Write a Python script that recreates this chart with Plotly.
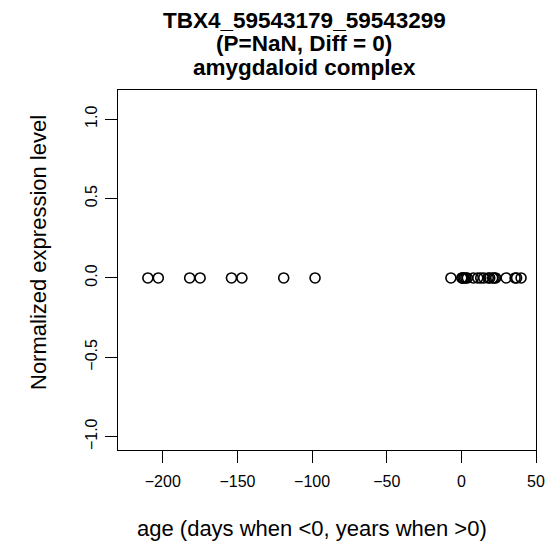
import plotly.graph_objects as go

# umur sampel (hari jika <0, tahun jika >0)
age_prenatal = [-210, -203, -182, -175, -154, -147, -119, -98]
age_postnatal = [-7, 0.3, 0.8, 1, 2, 3, 4, 8, 11, 13, 15, 18, 19, 21, 22, 23, 30, 36, 37, 40]
expr_prenatal = [0] * len(age_prenatal)
expr_postnatal = [0] * len(age_postnatal)

x_ticks = [-200, -150, -100, -50, 0, 50]
y_ticks = [-1.0, -0.5, 0.0, 0.5, 1.0]
title_lines = ["TBX4_59543179_59543299", "(P=NaN, Diff = 0)", "amygdaloid complex"]
x_label = "age (days when <0, years when >0)"
y_label = "Normalized expression level"

font_family = "Liberation Sans, Arial, Helvetica, sans-serif"

fig = go.Figure()
fig.add_trace(go.Scatter(
    x=age_prenatal + age_postnatal,
    y=expr_prenatal + expr_postnatal,
    mode="markers",
    marker=dict(symbol="circle-open", size=10, color="black", line=dict(color="black", width=1.6)),
    showlegend=False,
))

axis_style = dict(
    showgrid=False, zeroline=False,
    showline=True, linecolor="black", linewidth=1, mirror=True,
    ticks="outside", ticklen=12, tickwidth=1, tickcolor="black",
    tickfont=dict(size=16, color="black", family=font_family),
)

fig.update_layout(
    width=559, height=553,
    margin=dict(l=110, r=31, t=82, b=111),
    paper_bgcolor="white", plot_bgcolor="white",
    font=dict(family=font_family, color="black"),
    xaxis=dict(range=[-230, 50], tickvals=x_ticks, ticktext=[str(v).replace("-", "\u2212") for v in x_ticks],
               ticklabelstandoff=5, **axis_style),
    yaxis=dict(range=[-1.084, 1.184], tickvals=y_ticks,
               ticktext=[f"{v:.1f}".replace("-", "\u2212") for v in y_ticks], tickangle=-90,
               ticklabelstandoff=2, **axis_style),
)

# label sumbu sebagai anotasi
fig.add_annotation(text=x_label, xref="paper", yref="paper", x=0.5, y=0, xshift=-15, yshift=-78,
                   showarrow=False, font=dict(size=22), xanchor="center", yanchor="middle")
fig.add_annotation(text=y_label, xref="paper", yref="paper", x=0, y=0.5, xshift=-80, yshift=17,
                   textangle=-90, showarrow=False, font=dict(size=22), xanchor="center", yanchor="middle")

# judul tiga baris, tebal
for i, line in enumerate(title_lines):
    fig.add_annotation(
        text=f"<b>{line}</b>", xref="paper", yref="paper",
        x=0.5, y=1, xshift=-23, yshift=70 - i * 23.5, showarrow=False,
        font=dict(size=22.5, color="black", family=font_family),
        xanchor="center", yanchor="middle",
    )

fig.write_html("out.html")
